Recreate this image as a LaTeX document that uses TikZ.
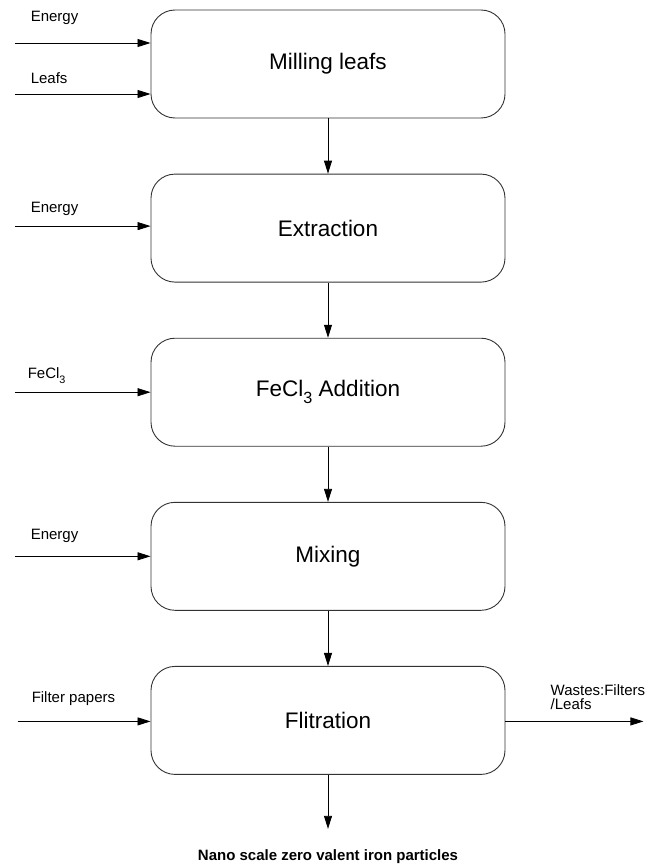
\documentclass[tikz,border=0pt]{standalone}
\usepackage{fontspec}
\setmainfont{Liberation Sans}
\usetikzlibrary{positioning,arrows.meta,calc}

\newcommand{\lowsub}[1]{\raisebox{-0.32em}{\scalebox{0.72}{#1}}}

\tikzset{
  process/.style = {draw = black!80, line width = 0.9pt, rounded corners = 24pt,
                    minimum width = 354pt, minimum height = 108pt,
                    font = \fontsize{22.5}{26}\selectfont},
  flow/.style    = {-{Triangle[length = 13pt, width = 8pt]}, line width = 0.8pt},
  tag/.style     = {anchor = base west, inner sep = 0pt,
                    font = \fontsize{15}{14}\selectfont},
}

\begin{document}
\begin{tikzpicture}[x = 1pt, y = 1pt, node distance = 55.2pt]
  \useasboundingbox (0,0) rectangle (657,-867);

  % Process steps
  \node [process] (mill) at (328,-64) {Milling leafs};
  \node [process, below = of mill] (extr) {Extraction};
  \node [process, below = of extr] (fecl) {FeCl\lowsub{3} Addition};
  \node [process, below = of fecl] (mix) {Mixing};
  \node [process, below = of mix] (filt) {Flitration};

  % Inputs
  \coordinate [left = 136pt of mill.west, yshift = 21pt] (in_energy1);
  \coordinate [left = 136pt of mill.west, yshift = -30pt] (in_leafs);
  \coordinate [left = 136pt of extr.west, yshift = 2pt] (in_energy2);
  \coordinate [left = 136pt of fecl.west] (in_fecl);
  \coordinate [left = 136pt of mix.west] (in_energy3);
  \coordinate [left = 133pt of filt.west, yshift = -1pt] (in_paper);

  % Outputs
  \coordinate [right = 138pt of filt.east, yshift = -1pt] (out_waste);
  \coordinate [below = 54pt of filt.south] (out_np);

  % Labels
  \node [tag] at ($(in_energy1) + (16,21)$) {Energy};
  \node [tag] at ($(in_leafs) + (16,10)$) {Leafs};
  \node [tag] at ($(in_energy2) + (16,14)$) {Energy};
  \node [tag] at ($(in_fecl) + (13,14)$) {FeCl\lowsub{3}};
  \node [tag] at ($(in_energy3) + (16,17)$) {Energy};
  \node [tag] at ($(in_paper) + (14,19)$) {Filter papers};
  \node [tag, align = left, anchor = south west] at ($(filt.east) + (45,11)$)
    {Wastes:Filters\\/Leafs};
  \node [below = 21pt of out_np, inner sep = 0pt,
         font = \bfseries\fontsize{15}{18}\selectfont] (np)
    {Nano scale zero valent iron particles};

  % Draw edges
  \draw [flow] (in_energy1) -- (in_energy1 -| mill.west);
  \draw [flow] (in_leafs) -- (in_leafs -| mill.west);
  \draw [flow] (in_energy2) -- (in_energy2 -| extr.west);
  \draw [flow] (in_fecl) -- (fecl.west);
  \draw [flow] (in_energy3) -- (mix.west);
  \draw [flow] (in_paper) -- (in_paper -| filt.west);
  \draw [flow] (mill) -- (extr);
  \draw [flow] (extr) -- (fecl);
  \draw [flow] (fecl) -- (mix);
  \draw [flow] (mix) -- (filt);
  \draw [flow] (filt.south) -- (out_np);
  \draw [flow] (out_waste -| filt.east) -- (out_waste);
\end{tikzpicture}
\end{document}
